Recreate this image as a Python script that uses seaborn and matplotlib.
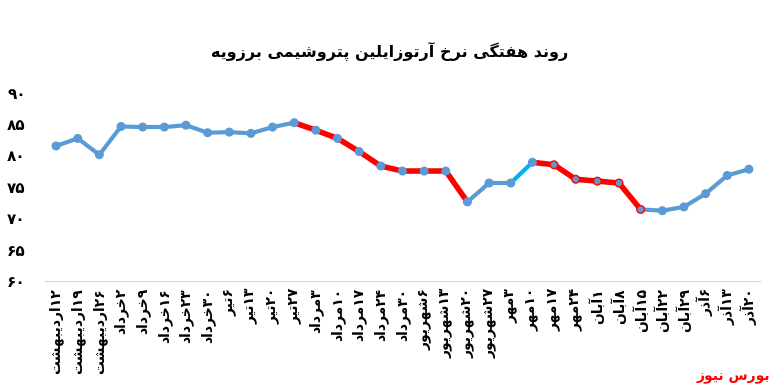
import re
import pandas as pd
import seaborn as sns
import matplotlib
matplotlib.use('Agg')
import matplotlib.pyplot as plt

# weekly ortho-xylene price, Borzouyeh petrochemical
dates = ['۱۲اردیبهشت', '۱۹اردیبهشت', '۲۶اردیبهشت', '۲خرداد', '۹خرداد', '۱۶خرداد',
         '۲۳خرداد', '۳۰خرداد', '۶تیر', '۱۳تیر', '۲۰تیر', '۲۷تیر', '۳مرداد',
         '۱۰مرداد', '۱۷مرداد', '۲۴مرداد', '۳۰مرداد', '۶شهریور', '۱۳شهریور',
         '۲۰شهریور', '۲۷شهریور', '۳مهر', '۱۰مهر', '۱۷مهر', '۲۴مهر', '۱آبان',
         '۸آبان', '۱۵آبان', '۲۲آبان', '۲۹آبان', '۶آذر', '۱۳آذر', '۲۰آذر']
prices = [81.5, 82.7, 80.1, 84.6, 84.5, 84.5, 84.8, 83.6, 83.7, 83.5, 84.5,
          85.2, 84.0, 82.7, 80.6, 78.3, 77.5, 77.5, 77.5, 72.6, 75.6, 75.6,
          78.9, 78.5, 76.2, 75.9, 75.6, 71.4, 71.2, 71.8, 73.9, 76.8, 77.8]
yticks = [60, 65, 70, 75, 80, 85, 90]
title = 'روند هفتگی نرخ آرتوزایلین پتروشیمی برزویه'
source = 'بورس نیوز'

# segment colours (one per interval between points)
BLUE, RED, CYAN = '#5B9BD5', '#FF0000', '#00B0F0'
seg_colors = [BLUE] * 11 + [RED] * 8 + [BLUE] * 2 + [CYAN] + [RED] * 5 + [BLUE] * 5
red_edge = set(range(23, 28))

# minimal arabic/persian shaping: (isolated, final, initial, medial)
FORMS = {
    'ا': ('\uFE8D', '\uFE8E', None, None), 'آ': ('\uFE81', '\uFE82', None, None),
    'ب': ('\uFE8F', '\uFE90', '\uFE91', '\uFE92'), 'پ': ('\uFB56', '\uFB57', '\uFB58', '\uFB59'),
    'ت': ('\uFE95', '\uFE96', '\uFE97', '\uFE98'), 'خ': ('\uFEA5', '\uFEA6', '\uFEA7', '\uFEA8'),
    'د': ('\uFEA9', '\uFEAA', None, None), 'ذ': ('\uFEAB', '\uFEAC', None, None),
    'ر': ('\uFEAD', '\uFEAE', None, None), 'ز': ('\uFEAF', '\uFEB0', None, None),
    'س': ('\uFEB1', '\uFEB2', '\uFEB3', '\uFEB4'), 'ش': ('\uFEB5', '\uFEB6', '\uFEB7', '\uFEB8'),
    'ف': ('\uFED1', '\uFED2', '\uFED3', '\uFED4'), 'گ': ('\uFB92', '\uFB93', '\uFB94', '\uFB95'),
    'ل': ('\uFEDD', '\uFEDE', '\uFEDF', '\uFEE0'), 'م': ('\uFEE1', '\uFEE2', '\uFEE3', '\uFEE4'),
    'ن': ('\uFEE5', '\uFEE6', '\uFEE7', '\uFEE8'), 'ه': ('\uFEE9', '\uFEEA', '\uFEEB', '\uFEEC'),
    'و': ('\uFEED', '\uFEEE', None, None), 'ی': ('\uFBFC', '\uFBFD', '\uFBFE', '\uFBFF'),
}


def fa(text):
    out = []
    for i, ch in enumerate(text):
        if ch not in FORMS:
            out.append(ch)
            continue
        prev = text[i - 1] if i > 0 else None
        nxt = text[i + 1] if i + 1 < len(text) else None
        jp = prev in FORMS and FORMS[prev][2] is not None
        jn = nxt in FORMS and FORMS[ch][2] is not None
        iso, fin, ini, med = FORMS[ch]
        out.append(med if jp and jn else fin if jp else ini if jn else iso)
    runs = re.findall(r'[0-9۰-۹]+|[^0-9۰-۹]+', ''.join(out))
    return ''.join(r if r[0].isdigit() else r[::-1] for r in reversed(runs))


def fa_num(n):
    return str(n).translate(str.maketrans('0123456789', '۰۱۲۳۴۵۶۷۸۹'))


df = pd.DataFrame({'pos': range(len(prices)), 'price': prices})

sns.set_style('white')
plt.rcParams['font.family'] = ['DejaVu Sans']
plt.rcParams['text.color'] = 'black'
plt.rcParams['xtick.color'] = 'black'
plt.rcParams['ytick.color'] = 'black'
fig = plt.figure(figsize=(7.8, 3.92), dpi=100)
ax = fig.add_axes([0.058, 0.283, 0.916, 0.481])

for i, c in enumerate(seg_colors):
    seg = df.iloc[i:i + 2]
    sns.lineplot(data=seg, x='pos', y='price', color=c,
                 lw=4 if c == RED else 3, ax=ax, zorder=2)

edges = [RED if i in red_edge else BLUE for i in df['pos']]
sns.scatterplot(data=df, x='pos', y='price', color=BLUE, edgecolor=edges,
                linewidth=1, s=30, ax=ax, zorder=3)

ax.set_xlim(-0.5, len(prices) - 0.5)
ax.set_ylim(60, 90)
ax.set_yticks(yticks)
ax.set_yticklabels([fa_num(v) for v in yticks], fontsize=11, fontweight='bold')
ax.set_xticks(df['pos'])
ax.set_xticklabels([fa(d) for d in dates], rotation=90, fontsize=10, fontweight='bold')
ax.tick_params(axis='x', length=0, pad=5)
ax.tick_params(axis='y', length=0, pad=14)
ax.set_xlabel('')
ax.set_ylabel('')
for s in ['top', 'right', 'left']:
    ax.spines[s].set_visible(False)
ax.spines['bottom'].set_color('#D9D9D9')

fig.text(0.5, 0.87, fa(title), ha='center', va='center', fontsize=11.5, fontweight='bold')
fig.text(0.988, 0.02, fa(source), ha='right', va='bottom', fontsize=10,
         fontweight='bold', color='#FF0000')

fig.savefig('out.png', dpi=100)
plt.close(fig)
